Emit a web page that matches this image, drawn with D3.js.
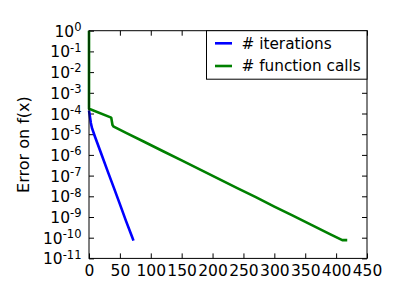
<!DOCTYPE html>
<html>
<head>
<meta charset="utf-8">
<script src="https://cdn.jsdelivr.net/npm/d3@7"></script>
<style>
  body { margin: 0; background: #fff; }
  svg { display: block; font-family: "DejaVu Sans", sans-serif; }
</style>
</head>
<body>
<div id="chart"></div>
<script>
let w = 400;
let h = 300;
let margin = {top: 30.7, right: 33, bottom: 41.6, left: 89};

// data
let iterX = [0, 1, 3, 5, 10, 20, 30, 40, 50, 60, 70, 72];
let iterErr = [1.4e-4, 8.9e-5, 3.5e-5, 1.9e-5, 7.1e-6, 1.1e-6, 1.7e-7, 2.7e-8, 4.2e-9, 6.3e-10, 1.05e-10, 7.2e-11];

let callX = [0, 0, 36, 38, 40, 60, 90, 120, 150, 180, 210, 240, 270, 300, 330, 360, 390, 410, 418];
let callErr = [1, 1.7e-4, 6.3e-5, 2.8e-5, 2.3e-5, 1.15e-5, 4.2e-6, 1.5e-6, 5.4e-7, 1.95e-7, 6.9e-8, 2.5e-8, 9.1e-9, 3.2e-9, 1.17e-9, 4.2e-10, 1.5e-10, 7.6e-11, 7.6e-11];

let xTicks = [0, 50, 100, 150, 200, 250, 300, 350, 400, 450];
let yExps = [0, -1, -2, -3, -4, -5, -6, -7, -8, -9, -10, -11];
let seriesNames = ["# iterations", "# function calls"];
let seriesColors = ["#0000ff", "#008000"];

let viz = d3.select("#chart")
  .append("svg")
  .attr("width", w)
  .attr("height", h);

let xScale = d3.scaleLinear().domain([0, 450]).range([margin.left, w - margin.right]);
let yScale = d3.scaleLog().domain([1e-11, 1]).range([h - margin.bottom, margin.top]);

// axes, ticks pointing inward like matplotlib classic
let xAxis = d3.axisBottom(xScale).tickValues(xTicks).tickSizeInner(-5).tickSizeOuter(0).tickPadding(7);
let xTop = d3.axisTop(xScale).tickValues(xTicks).tickSizeInner(-5).tickSizeOuter(0).tickFormat("");
let yAxis = d3.axisLeft(yScale).tickValues(yExps.map(e => Math.pow(10, e))).tickSizeInner(-5).tickSizeOuter(0).tickPadding(7.5);
let yRight = d3.axisRight(yScale).tickValues(yExps.map(e => Math.pow(10, e))).tickSizeInner(-5).tickSizeOuter(0).tickFormat("");

let xg = viz.append("g").attr("transform", "translate(0," + (h - margin.bottom) + ")").call(xAxis);
viz.append("g").attr("transform", "translate(0," + margin.top + ")").call(xTop);
let yg = viz.append("g").attr("transform", "translate(" + margin.left + ",0)").call(yAxis);
viz.append("g").attr("transform", "translate(" + (w - margin.right) + ",0)").call(yRight);

viz.selectAll(".domain").remove();
viz.selectAll(".tick line").attr("stroke", "#000").attr("stroke-width", 1);

xg.selectAll("text").attr("font-size", 15.5).attr("font-family", "DejaVu Sans").attr("fill", "#000");

// y labels as 10^n
yg.selectAll(".tick text").each(function(d) {
  let t = d3.select(this);
  let e = Math.round(Math.log10(d));
  t.text("").attr("font-size", 15.5).attr("font-family", "DejaVu Sans").attr("fill", "#000").attr("dy", "0.36em");
  t.append("tspan").text("10");
  t.append("tspan").attr("font-size", 11.5).attr("dy", -5.8).text(e === 0 ? "0" : "-" + Math.abs(e));
});

// lines
let line = d3.line()
  .x(d => xScale(d[0]))
  .y(d => yScale(d[1]));

let series = [
  d3.zip(iterX, iterErr),
  d3.zip(callX, callErr)
];

viz.selectAll(".series").data(series).enter()
  .append("path")
  .attr("class", "series")
  .attr("fill", "none")
  .attr("stroke", (d, i) => seriesColors[i])
  .attr("stroke-width", 2.6)
  .attr("stroke-linejoin", "round")
  .attr("d", line);

// axes frame
viz.append("rect")
  .attr("x", margin.left)
  .attr("y", margin.top)
  .attr("width", w - margin.left - margin.right)
  .attr("height", h - margin.top - margin.bottom)
  .attr("fill", "none")
  .attr("stroke", "#000")
  .attr("stroke-width", 1);

// y label
viz.append("text")
  .attr("transform", "translate(29," + ((margin.top + h - margin.bottom) / 2) + ") rotate(-90)")
  .attr("text-anchor", "middle")
  .attr("font-size", 16)
  .text("Error on f(x)");

// legend
let lg = viz.append("g");
lg.append("rect")
  .attr("x", 206.5)
  .attr("y", margin.top)
  .attr("width", w - margin.right - 206.5)
  .attr("height", 48.5)
  .attr("fill", "#fff")
  .attr("stroke", "#000")
  .attr("stroke-width", 1);

seriesNames.forEach(function(name, i) {
  let yy = 43.3 + i * 22.7;
  lg.append("line")
    .attr("x1", 215).attr("x2", 232)
    .attr("y1", yy).attr("y2", yy)
    .attr("stroke", seriesColors[i])
    .attr("stroke-width", 2.6);
  lg.append("text")
    .attr("x", 241.5)
    .attr("y", yy)
    .attr("dy", "0.35em")
    .attr("font-size", 15.3)
    .text(name);
});
</script>
</body>
</html>
